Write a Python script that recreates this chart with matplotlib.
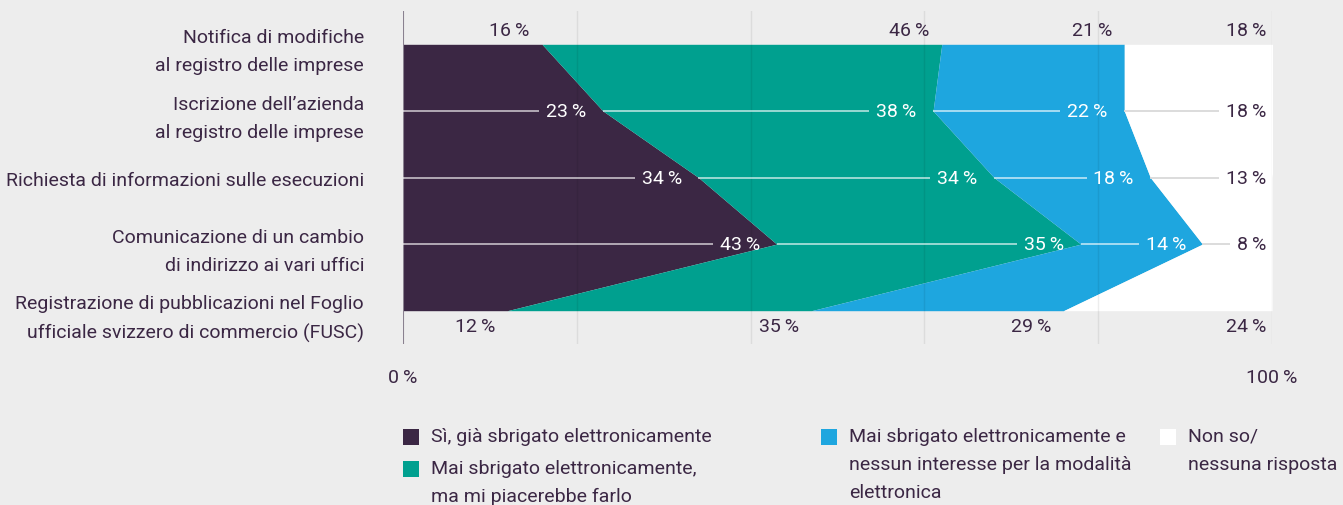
import numpy as np
import matplotlib
matplotlib.use("Agg")
import matplotlib.pyplot as plt
from matplotlib.patches import Rectangle

plt.rcParams['font.family'] = ['Roboto', 'DejaVu Sans']

# data
categories = [
    "Notifica di modifiche\nal registro delle imprese",
    "Iscrizione dell\u2019azienda\nal registro delle imprese",
    "Richiesta di informazioni sulle esecuzioni",
    "Comunicazione di un cambio\ndi indirizzo ai vari uffici",
    "Registrazione di pubblicazioni nel Foglio\nufficiale svizzero di commercio (FUSC)",
]
gia_fatto = [16, 23, 34, 43, 12]
vorrebbe = [46, 38, 34, 35, 35]
nessun_interesse = [21, 22, 18, 14, 29]
non_so = [18, 18, 13, 8, 24]

series_names = [
    "S\u00ec, gi\u00e0 sbrigato elettronicamente",
    "Mai sbrigato elettronicamente,\nma mi piacerebbe farlo",
    "Mai sbrigato elettronicamente e\nnessun interesse per la modalit\u00e0\nelettronica",
    "Non so/\nnessuna risposta",
]
colors = ['#3b2744', '#00a08f', '#1ea6df', '#ffffff']
text_col = '#3b2744'
bg = '#ededed'
fs = 14

series = np.array([gia_fatto, vorrebbe, nessun_interesse, non_so], dtype=float)
rows = np.arange(len(categories))
ends = np.cumsum(series, axis=0)
starts = ends - series
# last band always runs to the 100 % edge (rounded shares don't add up exactly)
ends[-1] = np.maximum(ends[-1], 100)

fig = plt.figure(figsize=(13.43, 5.06), dpi=100, facecolor=bg)
ax = fig.add_axes([403 / 1343, 1 - 345 / 506, 869 / 1343, 333 / 506])
ax.set_facecolor(bg)

for i in range(len(series)):
    ax.fill_betweenx(rows, starts[i], ends[i], color=colors[i], lw=0, zorder=2)

ax.set_xlim(0, 100)
ax.set_ylim(len(categories) - 0.5, -0.5)

# grid on top of the areas
for gx in [20, 40, 60, 80, 100]:
    ax.axvline(gx, color='black', alpha=0.07, lw=1, zorder=3)
ax.axvline(0, color='#8a8190', lw=1.5, zorder=4)

for s in ax.spines.values():
    s.set_visible(False)

ax.set_yticks(rows)
ax.set_yticklabels(categories, fontsize=fs, color=text_col, linespacing=1.7)
ax.tick_params(axis='y', length=0, pad=28)
ax.set_xticks([0, 100])
ax.set_xticklabels(['0\u2009%', '100\u2009%'], fontsize=fs, color=text_col)
ax.tick_params(axis='x', length=0, pad=17)

fig.canvas.draw()
renderer = fig.canvas.get_renderer()
inv = ax.transData.inverted()

n = len(categories)
for r in rows:
    for i in range(len(series)):
        val = series[i, r]
        end = min(ends[i, r], 100)
        last = i == len(series) - 1
        lab = f"{int(val)}\u2009%"
        if r == 0 or r == n - 1:
            pad = 0.7 if last else 1.4
            y = -0.21 if r == 0 else n - 1 + 0.23
            ax.text(end - pad, y, lab, ha='right', va='center', fontsize=fs,
                    color=text_col, zorder=5)
            continue
        pad = 0.7 if last else 1.9
        col = text_col if last else 'white'
        t = ax.text(end - pad, r, lab, ha='right', va='center', fontsize=fs,
                    color=col, zorder=5)
        bb = t.get_window_extent(renderer)
        x_left = inv.transform((bb.x0, 0))[0]
        lcol = '#d9d9d9' if last else 'white'
        lalpha = 1 if last else 0.65
        ax.plot([starts[i, r], x_left - 0.8], [r, r], color=lcol, alpha=lalpha,
                lw=1.3, zorder=4, solid_capstyle='butt')

# legend drawn by hand
leg = [(403, 430), (403, 462), (821, 430), (1160, 430)]
for (px, py), name, c in zip(leg, series_names, colors):
    fig.patches.append(Rectangle((px / 1343, 1 - (py + 16) / 506), 16 / 1343, 16 / 506,
                                 transform=fig.transFigure, color=c, lw=0))
    fig.text((px + 28) / 1343, 1 - (py - 2) / 506, name, ha='left', va='top',
             fontsize=fs, color=text_col, linespacing=1.7)

fig.savefig('out.png', dpi=100, facecolor=bg)
